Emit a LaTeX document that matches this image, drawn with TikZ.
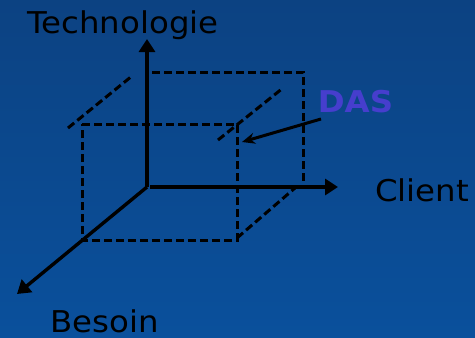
\documentclass[tikz,border=0pt]{standalone}
\usepackage{fontspec}
\setmainfont{DejaVu Sans}
\newfontfamily\labelfont[FakeStretch=1.08]{DejaVu Sans}
\usetikzlibrary{arrows.meta}
\definecolor{bgtop}{RGB}{12,66,130}
\definecolor{bgbot}{RGB}{10,80,156}
\definecolor{dasblue}{RGB}{70,62,205}
\begin{document}
\begin{tikzpicture}[x=1pt,y=-1pt,
  axis/.style={line width=3.4pt,-{Triangle[length=13pt,width=16pt]}},
  edge/.style={line width=3pt,dash pattern=on 8pt off 4pt},
  pointer/.style={line width=3pt,-{Stealth[length=13pt,width=11pt]}},
  axislabel/.style={font=\labelfont\fontsize{30}{36}\selectfont,text=black,inner sep=0pt,anchor=base},
]
% background
\shade[top color=bgtop,bottom color=bgbot] (0,0) rectangle (475,338);
\useasboundingbox (0,0) rectangle (475,338);

% reference points of the cube
\coordinate (O) at (147,187);
\coordinate (Ttip) at (147,39);
\coordinate (Ctip) at (338,187);
\coordinate (Btip) at (17,294);
\coordinate (Cstart) at (150,187);
\coordinate (FTL) at (82,124);
\coordinate (FTR) at (237,124);
\coordinate (FBR) at (237,240);
\coordinate (FBL) at (82,240);
\coordinate (BTL) at (152,72);
\coordinate (BTR) at (303,72);
\coordinate (BBR) at (303,184);
\coordinate (D1a) at (68,128);
\coordinate (D1b) at (132,76);
\coordinate (D2a) at (218,140);
\coordinate (D2b) at (283,88);
\coordinate (D3a) at (237,238);
\coordinate (D3b) at (295,188);
\coordinate (Pa) at (321,119);
\coordinate (Pb) at (242,142);

% dashed cube edges
\draw[edge] (FTL) -- (FTR) -- (FBR) -- (FBL) -- cycle;
\draw[edge] (BTL) -- (BTR) -- (BBR);
\draw[edge] (D1a) -- (D1b);
\draw[edge] (D2a) -- (D2b);
\draw[edge] (D3a) -- (D3b);

% axes
\draw[axis] (O) -- (Ttip);
\draw[axis] (Cstart) -- (Ctip);
\draw[axis] (O) -- (Btip);

% labels
\node[axislabel] (tech) at (123,33) {Technologie};
\node[axislabel] (client) at (422,201) {Client};
\node[axislabel] (besoin) at (104.5,332) {Besoin};
\node[axislabel,font=\labelfont\fontsize{30}{36}\selectfont\bfseries,text=dasblue] (das) at (355.5,112) {DAS};

\draw[pointer] (Pa) -- (Pb);
\end{tikzpicture}
\end{document}
